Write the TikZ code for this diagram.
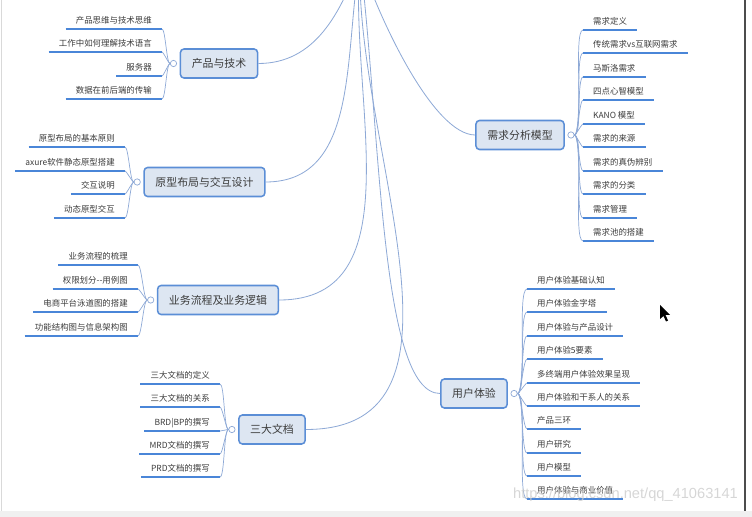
\documentclass[tikz,border=0pt]{standalone}
\usepackage{fontspec}
\setmainfont{Noto Sans CJK SC}
\newfontfamily\wmfont{Liberation Sans}
\usepackage{xcolor}
\usetikzlibrary{positioning}
\definecolor{topicline}{HTML}{5B8ED6}
\definecolor{topicfill}{HTML}{DDE6F2}
\definecolor{branchline}{HTML}{8EA9D6}
\definecolor{leafline}{HTML}{4A86D8}
\definecolor{inkgray}{HTML}{3C3C3C}

\begin{document}
\begin{tikzpicture}[x=0.03cm,y=-0.03cm,
  topic/.style={draw=topicline,line width=1.3pt,fill=topicfill,rounded corners=3pt,
    minimum height=0.87cm,inner xsep=0.34cm,font=\fontsize{9.3}{11}\selectfont,text=inkgray},
  knob/.style={circle,draw=branchline,fill=white,inner sep=0pt,minimum size=0.19cm,line width=0.6pt},
  leaf/.style={inner xsep=0.3cm,inner ysep=0.9mm,text height=1.55ex,text depth=0.35ex,
    font=\fontsize{7.2}{8}\selectfont,text=inkgray,
    append after command={(\tikzlastnode.south west) edge[draw=leafline,line width=2pt] (\tikzlastnode.south east)}},
  lleaf/.style={leaf,anchor=south east},
  rleaf/.style={leaf,anchor=south west},
  branch/.style={draw=branchline,line width=0.7pt},
  twig/.style={draw=branchline,line width=0.6pt,looseness=0.25},
  lt/.style={out=180,in=0},
  rt/.style={out=0,in=180}]
  \useasboundingbox (0,0) rectangle (752,517);
  % window frame
  \fill[gray!12] (0,511) rectangle (752,517);
  \draw[gray!30,line width=0.6pt] (1,0) -- (1,511);
  \draw[black!70,line width=1pt] (745,0) -- (745,511);

  % main topics
  \coordinate (root) at (360,-40);
  \node[topic] (b1) at (219,63.5) {产品与技术};
  \node[topic] (b2) at (204.5,182) {原型布局与交互设计};
  \node[topic] (b3) at (218,300) {业务流程及业务逻辑};
  \node[topic] (b4) at (272,429.5) {三大文档};
  \node[topic] (b5) at (520,135) {需求分析模型};
  \node[topic] (b6) at (474,393.5) {用户体验};
  \draw[branch] (root) to[out=-110,in=0] (b1.east);
  \draw[branch] (root) to[out=-100,in=0] (b2.east);
  \draw[branch] (root) to[out=-95,in=0] (b3.east);
  \draw[branch] (root) to[out=-92,in=0] (b4.east);
  \draw[branch] (root) to[out=-72,in=180,out looseness=0.8,in looseness=0.5] (b5.west);
  \draw[branch] (root) to[out=-83,in=180,in looseness=0.35] (b6.west);

  \node[knob,left=0.8mm of b1] (o1) {};
  \node[knob,left=0.8mm of b2] (o2) {};
  \node[knob,left=0.8mm of b3] (o3) {};
  \node[knob,left=0.8mm of b4] (o4) {};
  \node[knob,right=0.8mm of b5] (o5) {};
  \node[knob,right=0.8mm of b6] (o6) {};

  % 产品与技术
  \node[lleaf] (t1) at (162,29) {产品思维与技术思维};
  \node[lleaf] (t2) at (162,52) {工作中如何理解技术语言};
  \node[lleaf] (t3) at (162,76) {服务器};
  \node[lleaf] (t4) at (162,99) {数据在前后端的传输};
  \path[twig] (o1) edge[lt] (t1.south east) edge[lt] (t2.south east)
    edge[lt] (t3.south east) edge[lt] (t4.south east);

  % 原型布局与交互设计
  \node[lleaf] (y1) at (125,147) {原型布局的基本原则};
  \node[lleaf] (y2) at (125,171) {axure软件静态原型搭建};
  \node[lleaf] (y3) at (125,194) {交互说明};
  \node[lleaf] (y4) at (125,218) {动态原型交互};
  \path[twig] (o2) edge[lt] (y1.south east) edge[lt] (y2.south east)
    edge[lt] (y3.south east) edge[lt] (y4.south east);

  % 业务流程及业务逻辑
  \node[lleaf] (l1) at (138,265) {业务流程的梳理};
  \node[lleaf] (l2) at (138,289) {权限划分-{}-用例图};
  \node[lleaf] (l3) at (138,312) {电商平台泳道图的搭建};
  \node[lleaf] (l4) at (138,336) {功能结构图与信息架构图};
  \path[twig] (o3) edge[lt] (l1.south east) edge[lt] (l2.south east)
    edge[lt] (l3.south east) edge[lt] (l4.south east);

  % 三大文档
  \node[lleaf] (w1) at (220,384) {三大文档的定义};
  \node[lleaf] (w2) at (220,407) {三大文档的关系};
  \node[lleaf] (w3) at (220,431) {BRD|BP的撰写};
  \node[lleaf] (w4) at (220,454) {MRD文档的撰写};
  \node[lleaf] (w5) at (220,477) {PRD文档的撰写};
  \path[twig] (o4) edge[lt] (w1.south east) edge[lt] (w2.south east) edge[lt] (w3.south east)
    edge[lt] (w4.south east) edge[lt] (w5.south east);

  % 需求分析模型
  \node[rleaf] (x1) at (583,30) {需求定义};
  \node[rleaf] (x2) at (583,53) {传统需求vs互联网需求};
  \node[rleaf] (x3) at (583,77) {马斯洛需求};
  \node[rleaf] (x4) at (583,100) {四点心智模型};
  \node[rleaf] (x5) at (583,124) {KANO 模型};
  \node[rleaf] (x6) at (583,147) {需求的来源};
  \node[rleaf] (x7) at (583,171) {需求的真伪辨别};
  \node[rleaf] (x8) at (583,194) {需求的分类};
  \node[rleaf] (x9) at (583,218) {需求管理};
  \node[rleaf] (x10) at (583,241) {需求池的搭建};
  \path[twig] (o5) edge[rt] (x1.south west) edge[rt] (x2.south west) edge[rt] (x3.south west)
    edge[rt] (x4.south west) edge[rt] (x5.south west) edge[rt] (x6.south west)
    edge[rt] (x7.south west) edge[rt] (x8.south west) edge[rt] (x9.south west)
    edge[rt] (x10.south west);

  % 用户体验
  \node[rleaf] (u1) at (527,289) {用户体验基础认知};
  \node[rleaf] (u2) at (527,312) {用户体验金字塔};
  \node[rleaf] (u3) at (527,336) {用户体验与产品设计};
  \node[rleaf] (u4) at (527,359) {用户体验5要素};
  \node[rleaf] (u5) at (527,383) {多终端用户体验效果呈现};
  \node[rleaf] (u6) at (527,406) {用户体验和干系人的关系};
  \node[rleaf] (u7) at (527,429) {产品三环};
  \node[rleaf] (u8) at (527,453) {用户研究};
  \node[rleaf] (u9) at (527,476) {用户模型};
  \node[rleaf] (u10) at (527,499) {用户体验与商业价值};
  \path[twig] (o6) edge[rt] (u1.south west) edge[rt] (u2.south west) edge[rt] (u3.south west)
    edge[rt] (u4.south west) edge[rt] (u5.south west) edge[rt] (u6.south west)
    edge[rt] (u7.south west) edge[rt] (u8.south west) edge[rt] (u9.south west)
    edge[rt] (u10.south west);

  % mouse pointer and watermark
  \fill[black] (660,305) -- (660,319) -- (663.5,316) -- (666,321.5) -- (668,320.5) -- (665.5,315) -- (670,315) -- cycle;
  \node[anchor=east,font=\wmfont\fontsize{12.5}{14}\selectfont,text=gray!40,opacity=0.8] (wm) at (742,495) {https://blog.csdn.net/qq\_41063141};
\end{tikzpicture}
\end{document}
